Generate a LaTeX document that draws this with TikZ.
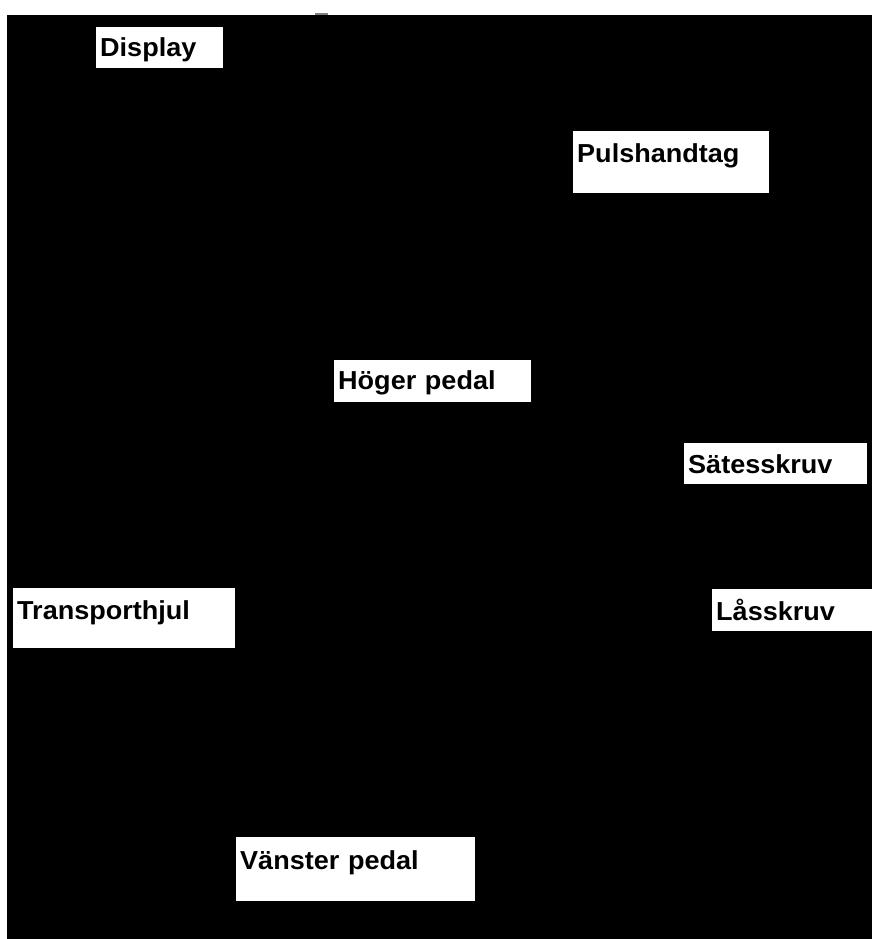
\documentclass[tikz,border=0pt]{standalone}
\usepackage{fontspec}
\setmainfont{Liberation Sans}
\newfontfamily\tagfont[FakeStretch=1.04]{Liberation Sans}
\usepackage{tikz}
\usetikzlibrary{positioning}

\begin{document}
\begin{tikzpicture}[
    x=1pt, y=-1pt,
    tag/.style={rectangle, fill=white, anchor=north west, inner xsep=4pt, inner ysep=0pt, align=left, font=\tagfont\fontsize{26}{31}\selectfont\bfseries},
]

\useasboundingbox (0,0) rectangle (872,939);

% Backdrop
\fill[black] (7,15) rectangle (872,939);
\fill[gray] (315,13) rectangle (328,15);

% Labels
\node[tag, text width=119pt, text height=29pt, text depth=12pt] (display) at (96,27) {Display};
\node[tag, text width=188pt, text height=31pt, text depth=31pt] (pulse) at (573,131) {Pulshandtag};
\node[tag, text width=189pt, text height=29pt, text depth=13pt] (rightpedal) at (334,360) {Höger pedal};
\node[tag, text width=175pt, text height=30pt, text depth=11pt] (seatscrew) at (684,443) {Sätesskruv};
\node[tag, text width=214pt, text height=31pt, text depth=29pt] (wheel) at (13,588) {Transporthjul};
\node[tag, text width=152pt, text height=31pt, text depth=11pt] (lockscrew) at (712,589) {Låsskruv};
\node[tag, text width=231pt, text height=32pt, text depth=32pt] (leftpedal) at (236,837) {Vänster pedal};

\end{tikzpicture}
\end{document}
